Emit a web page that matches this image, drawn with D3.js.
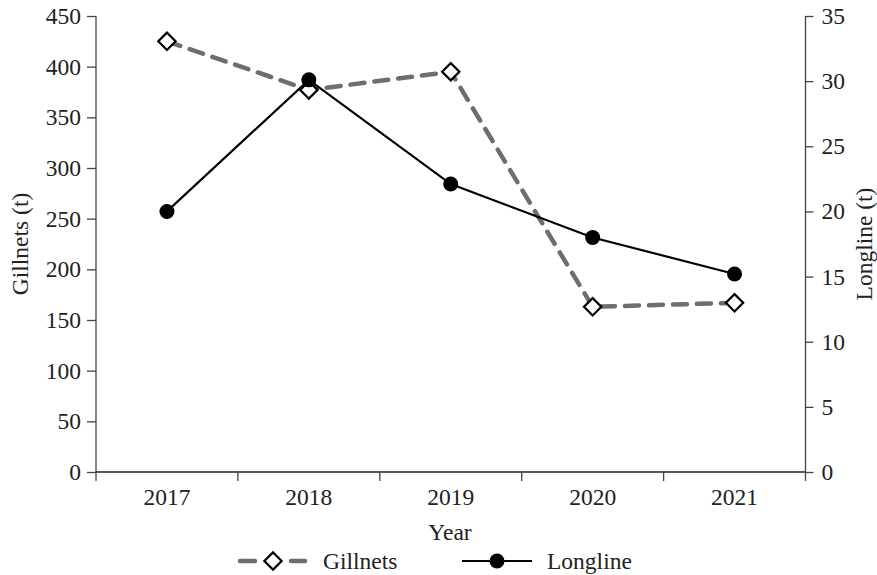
<!DOCTYPE html>
<html><head><meta charset="utf-8">
<script src="https://cdn.jsdelivr.net/npm/d3@7"></script>
<style>body{margin:0;background:#fff}svg{display:block}text{font-family:"Liberation Serif","Times New Roman",serif;fill:#222}</style>
</head><body><svg id="c" width="877" height="575"></svg>
<script>
const years = ["2017","2018","2019","2020","2021"];
const gillnets = [425, 377, 395, 163, 167];
const longline = [20, 30.1, 22.1, 18, 15.2];
const leftTicks = [0,50,100,150,200,250,300,350,400,450];
const rightTicks = [0,5,10,15,20,25,30,35];

const svg = d3.select("#c");
const SERIF = '"Liberation Serif","Times New Roman",serif';
const FS = 23.5;
const L = 96, R = 805.5, T = 16, B = 472;
const x = d3.scaleBand().domain(years).range([L, R]);
const yL = d3.scaleLinear().domain([0,450]).range([B, T]);
const yR = d3.scaleLinear().domain([0,35]).range([B, T]);
const ax = "#444";

const gl = svg.append("g").attr("transform",`translate(${L},0)`)
  .call(d3.axisLeft(yL).tickValues(leftTicks).tickSize(9).tickPadding(6));
const gr = svg.append("g").attr("transform",`translate(${R},0)`)
  .call(d3.axisRight(yR).tickValues(rightTicks).tickSize(8).tickPadding(8));
const gb = svg.append("g").attr("transform",`translate(0,${B})`)
  .call(d3.axisBottom(x).tickSize(0).tickPadding(16));
[gl,gr,gb].forEach(g=>{
  g.attr("font-family",SERIF).attr("font-size",FS);
  g.selectAll("text").style("font-family",SERIF).style("font-size",FS+"px").attr("fill","#222");
});
[gl,gr].forEach(g=>{
  g.select(".domain").attr("stroke",ax).attr("stroke-width",1.3).attr("d",`M0,${T}V${B}`);
  g.selectAll(".tick line").attr("stroke",ax).attr("stroke-width",1.3);
});
gb.select(".domain").attr("stroke","#222").attr("stroke-width",1.5).attr("d",`M${L},0H${R}`);
const bounds = years.map(y=>x(y)).concat([R]);
gb.selectAll(".bt").data(bounds).join("line").attr("class","bt")
  .attr("x1",d=>d).attr("x2",d=>d).attr("y1",0).attr("y2",9).attr("stroke",ax).attr("stroke-width",1.3);

const cx = d => x(d) + x.bandwidth()/2;

svg.append("path").datum(gillnets.map((v,i)=>[cx(years[i]), yL(v)]))
  .attr("d", d3.line()).attr("fill","none").attr("stroke","#6e6e6e")
  .attr("stroke-width",4.5).attr("stroke-dasharray","14,10").attr("stroke-linecap","round");
svg.append("path").datum(longline.map((v,i)=>[cx(years[i]), yR(v)]))
  .attr("d", d3.line()).attr("fill","none").attr("stroke","#000").attr("stroke-width",2.2);

const diamond = d3.symbol().type(d3.symbolSquare).size(150);
svg.selectAll(".gm").data(gillnets).join("path").attr("class","gm")
  .attr("d", diamond).attr("transform",(d,i)=>`translate(${cx(years[i])},${yL(d)}) rotate(45)`)
  .attr("fill","#fff").attr("stroke","#000").attr("stroke-width",2.2);
svg.selectAll(".lm").data(longline).join("circle").attr("class","lm")
  .attr("cx",(d,i)=>cx(years[i])).attr("cy",d=>yR(d)).attr("r",7.5).attr("fill","#000");

svg.append("text").attr("transform","translate(28,244) rotate(-90)").attr("text-anchor","middle")
  .style("font-size",FS+"px").text("Gillnets (t)");
svg.append("text").attr("transform","translate(872,244) rotate(-90)").attr("text-anchor","middle")
  .style("font-size",FS+"px").text("Longline (t)");
svg.append("text").attr("x",450).attr("y",540).attr("text-anchor","middle")
  .style("font-size",FS+"px").text("Year");

const ly = 561;
[[240,255],[291,305]].forEach(s=>svg.append("line").attr("x1",s[0]).attr("x2",s[1]).attr("y1",ly).attr("y2",ly)
  .attr("stroke","#6e6e6e").attr("stroke-width",4.5).attr("stroke-linecap","round"));
svg.append("path").attr("d",diamond).attr("transform",`translate(273,${ly}) rotate(45)`)
  .attr("fill","#fff").attr("stroke","#000").attr("stroke-width",2.2);
svg.append("text").attr("x",323).attr("y",ly+8).style("font-size",FS+"px").text("Gillnets");
svg.append("line").attr("x1",462).attr("x2",532).attr("y1",ly).attr("y2",ly)
  .attr("stroke","#000").attr("stroke-width",2.2);
svg.append("circle").attr("cx",497).attr("cy",ly).attr("r",7.5).attr("fill","#000");
svg.append("text").attr("x",547).attr("y",ly+8).style("font-size",FS+"px").text("Longline");
</script></body></html>
